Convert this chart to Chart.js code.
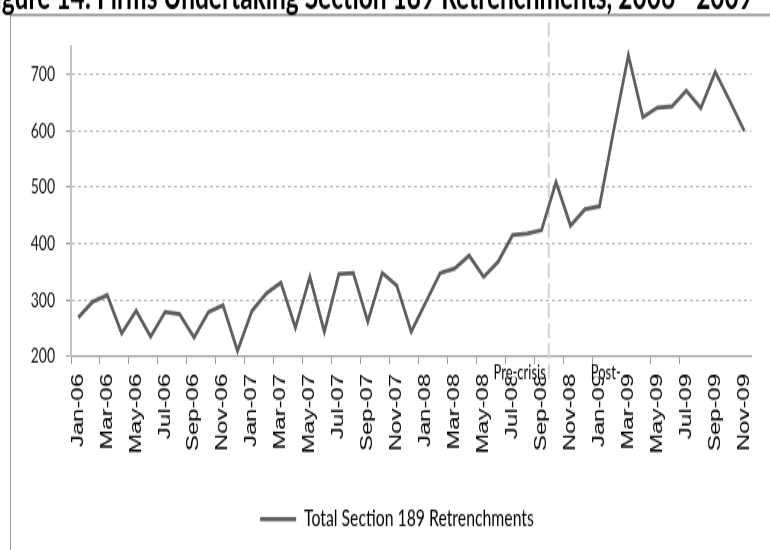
<!DOCTYPE html>
<html>
<head>
<meta charset="utf-8">
<script src="https://cdn.jsdelivr.net/npm/chart.js@4.4.1/dist/chart.umd.min.js"></script>
<style>
  html, body { margin: 0; padding: 0; background: #fff; }
  #wrap { position: relative; width: 770px; height: 550px; overflow: hidden; background: #fff; }
  /* the chart is laid out in a short frame and stretched to full height */
  #c { position: absolute; left: 0; top: 0; width: 770px; height: 367px;
       transform: scaleY(1.4986); transform-origin: 0 0; }
</style>
</head>
<body>
<div id="wrap"><canvas id="c" width="770" height="367"></canvas></div>
<script>
const titleText = 'Figure 14: Firms Undertaking Section 189 Retrenchments, 2006 - 2009';
const seriesName = 'Total Section 189 Retrenchments';

const months = [
  'Jan-06','Feb-06','Mar-06','Apr-06','May-06','Jun-06','Jul-06','Aug-06','Sep-06','Oct-06','Nov-06','Dec-06',
  'Jan-07','Feb-07','Mar-07','Apr-07','May-07','Jun-07','Jul-07','Aug-07','Sep-07','Oct-07','Nov-07','Dec-07',
  'Jan-08','Feb-08','Mar-08','Apr-08','May-08','Jun-08','Jul-08','Aug-08','Sep-08','Oct-08','Nov-08','Dec-08',
  'Jan-09','Feb-09','Mar-09','Apr-09','May-09','Jun-09','Jul-09','Aug-09','Sep-09','Oct-09','Nov-09'
];

const retrenchments = [
  269, 297, 309, 241, 281, 235, 279, 275, 234, 279, 291, 210,
  281, 312, 331, 251, 341, 244, 346, 348, 262, 348, 326, 244,
  296, 348, 356, 379, 341, 368, 415, 418, 424, 509, 432, 461,
  466, 603, 734, 624, 641, 643, 671, 640, 704, 653, 600
];

const yMin = 200, yMax = 750, yStep = 100;
const lastPreCrisisMonth = 'Sep-08';
const crisisLabels = ['Pre-crisis', 'Post-'];
// category boundaries whose tick marks are left out
const hiddenTickBoundaries = [38, 44, 46];

const lineColor = '#5e5e5e';

// white page, outer frame and the heading (its upper part runs off the top)
const framePlugin = {
  id: 'frame',
  beforeDraw(chart) {
    const ctx = chart.ctx;
    ctx.save();
    ctx.fillStyle = '#fff';
    ctx.fillRect(0, 0, chart.width, chart.height);
    ctx.strokeStyle = '#8c8c8c';
    ctx.lineWidth = 1.7;
    ctx.beginPath();
    ctx.moveTo(10.5, 10);
    ctx.lineTo(chart.width + 5, 10);
    ctx.stroke();
    ctx.lineWidth = 1.1;
    ctx.strokeStyle = '#9a9a9a';
    ctx.beginPath();
    ctx.moveTo(10.5, 10);
    ctx.lineTo(10.5, chart.height + 5);
    ctx.stroke();
    ctx.fillStyle = '#000';
    ctx.font = 'bold 24.5px Lato';
    ctx.textAlign = 'right';
    ctx.textBaseline = 'alphabetic';
    ctx.fillText(titleText, 753, 6);
    ctx.restore();
  }
};

function crisisX(chart) {
  const xs = chart.scales.x;
  const i = months.indexOf(lastPreCrisisMonth);
  return (xs.getPixelForValue(i) + xs.getPixelForValue(i + 1)) / 2;
}

// dashed divider between the last pre-crisis month and the first crisis month
const crisisPlugin = {
  id: 'crisis',
  beforeDatasetsDraw(chart) {
    const ctx = chart.ctx;
    const x = crisisX(chart);
    ctx.save();
    ctx.strokeStyle = '#d2d2d2';
    ctx.lineWidth = 2;
    ctx.setLineDash([10, 3.4]);
    ctx.beginPath();
    ctx.moveTo(x, 14.7);
    ctx.lineTo(x, 253);
    ctx.stroke();
    ctx.restore();
  },
  afterDraw(chart) {
    const ctx = chart.ctx;
    const x = crisisX(chart);
    const y = chart.chartArea.bottom + 14.6;
    ctx.save();
    ctx.font = '13px Lato';
    ctx.textBaseline = 'alphabetic';
    const preW = ctx.measureText(crisisLabels[0]).width;
    const postW = ctx.measureText(crisisLabels[1]).width;
    // text boxes with a white fill sit over the top of the month labels
    ctx.fillStyle = '#fff';
    ctx.fillRect(x - 4 - preW, y - 9, preW + 1, 8.2);
    ctx.fillRect(x + 41, y - 9, postW + 3, 8.2);
    ctx.fillStyle = '#000';
    ctx.textAlign = 'right';
    ctx.fillText(crisisLabels[0], x - 3, y);
    ctx.textAlign = 'left';
    ctx.fillText(crisisLabels[1], x + 42, y);
    ctx.restore();
  }
};

new Chart(document.getElementById('c'), {
  type: 'line',
  data: {
    labels: months,
    datasets: [{
      label: seriesName,
      data: retrenchments,
      borderColor: lineColor,
      backgroundColor: lineColor,
      borderWidth: 2.8,
      pointRadius: 0,
      tension: 0,
      fill: false
    }]
  },
  options: {
    responsive: false,
    animation: false,
    devicePixelRatio: 1,
    layout: { padding: { left: 31, right: 7, top: 30.7, bottom: 2.8 } },
    plugins: {
      tooltip: { enabled: false },
      title: { display: false },
      legend: {
        position: 'bottom',
        labels: {
          usePointStyle: true,
          pointStyle: 'line',
          pointStyleWidth: 36,
          padding: 10,
          color: '#000',
          font: { family: 'Lato', size: 15.8 }
        }
      }
    },
    scales: {
      x: {
        type: 'category',
        offset: true,
        afterFit(scale) { scale.height = 90.5; },
        grid: {
          offset: true,
          drawOnChartArea: false,
          drawTicks: true,
          tickLength: 5,
          tickWidth: 1,
          tickColor: ctx => (ctx.index % 2 === 0 && !hiddenTickBoundaries.includes(ctx.index)) ? '#9a9a9a' : 'rgba(0,0,0,0)'
        },
        border: { display: true, color: '#9a9a9a', width: 1.3 },
        ticks: {
          autoSkip: false,
          minRotation: 90,
          maxRotation: 90,
          padding: 6.5,
          color: '#000',
          font: { family: 'Liberation Sans', size: 16 },
          callback: (value, index) => index % 2 === 0 ? months[index] : ''
        }
      },
      y: {
        min: yMin,
        max: yMax,
        afterFit(scale) { scale.width = 40; },
        grid: {
          color: ctx => (ctx.tick && ctx.tick.value === yMin) ? 'rgba(0,0,0,0)' : '#b8b8b8',
          lineWidth: 1,
          tickLength: 5,
          tickColor: '#9a9a9a',
          tickBorderDash: []
        },
        border: { display: true, color: '#c4c4c4', width: 2, dash: [3, 3] },
        ticks: {
          stepSize: yStep,
          includeBounds: false,
          padding: 11,
          color: '#111',
          font: { family: 'Lato', size: 14 }
        }
      }
    }
  },
  plugins: [framePlugin, crisisPlugin]
});
</script>
</body>
</html>
